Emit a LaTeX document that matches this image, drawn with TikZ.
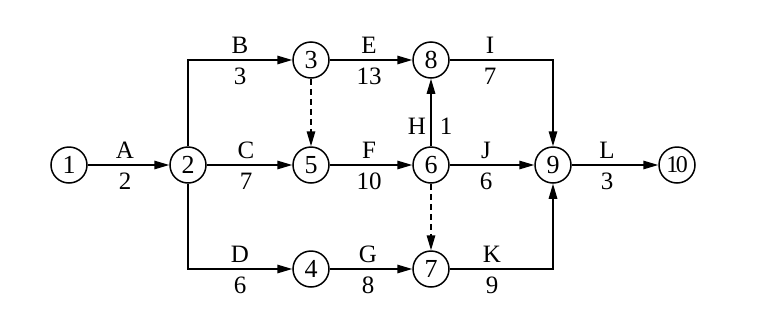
\documentclass[tikz,border=0pt]{standalone}
\usepackage{fontspec}
\setmainfont{Liberation Serif}
\usetikzlibrary{arrows.meta}
\begin{document}
\begin{tikzpicture}[x=1pt,y=-1pt,
  ev/.style={circle,draw,line width=1.5pt,minimum size=36pt,inner sep=0pt,font=\fontsize{26}{28}\selectfont},
  act/.style={line width=1.5pt,-{Triangle[length=15pt,width=8.5pt]}},
  dum/.style={act,dash pattern=on 6pt off 4pt},
  lab/.style={font=\fontsize{25}{30}\selectfont,inner sep=0pt}]
\useasboundingbox (0,0) rectangle (761,322);
\node[ev] (n1) at (69,165) {1};
\node[ev] (n2) at (188,165) {2};
\node[ev] (n3) at (311,60) {3};
\node[ev] (n5) at (311,165) {5};
\node[ev] (n4) at (311,269) {4};
\node[ev] (n8) at (431,60) {8};
\node[ev] (n6) at (431,165) {6};
\node[ev] (n7) at (431,269) {7};
\node[ev] (n9) at (553,165) {9};
\node[ev] (n10) at (677,165) {\fontsize{24}{26}\selectfont 1\kern-2.5pt0};
\draw[act] (n1) -- (n2);
\draw[act] (n2.north) |- (n3);
\draw[act] (n2) -- (n5);
\draw[act] (n2.south) |- (n4);
\draw[dum] (n3) -- (n5);
\draw[act] (n3) -- (n8);
\draw[act] (n5) -- (n6);
\draw[act] (n4) -- (n7);
\draw[act] (n6) -- (n8);
\draw[dum] (n6) -- (n7);
\draw[act] (n8) -| (n9.north);
\draw[act] (n6) -- (n9);
\draw[act] (n7) -| (n9.south);
\draw[act] (n9) -- (n10);
% labels
\node[lab] (lA) at (125,150) {A}; \node[lab] (dA) at (125,181) {2};
\node[lab] (lB) at (240,45) {B}; \node[lab] (dB) at (240,76) {3};
\node[lab] (lC) at (246,150) {C}; \node[lab] (dC) at (246,181) {7};
\node[lab] (lD) at (240,254) {D}; \node[lab] (dD) at (240,285) {6};
\node[lab] (lE) at (369,45) {E}; \node[lab] (dE) at (369,76) {13};
\node[lab] (lF) at (369,150) {F}; \node[lab] (dF) at (369,181) {10};
\node[lab] (lG) at (368,254) {G}; \node[lab] (dG) at (368,285) {8};
\node[lab] (lH) at (417,126) {H}; \node[lab] (dH) at (446,126) {1};
\node[lab] (lI) at (490,45) {I}; \node[lab] (dI) at (490,76) {7};
\node[lab] (lJ) at (486,150) {J}; \node[lab] (dJ) at (486,181) {6};
\node[lab] (lK) at (492,254) {K}; \node[lab] (dK) at (492,285) {9};
\node[lab] (lL) at (607,150) {L}; \node[lab] (dL) at (607,181) {3};
\end{tikzpicture}
\end{document}
